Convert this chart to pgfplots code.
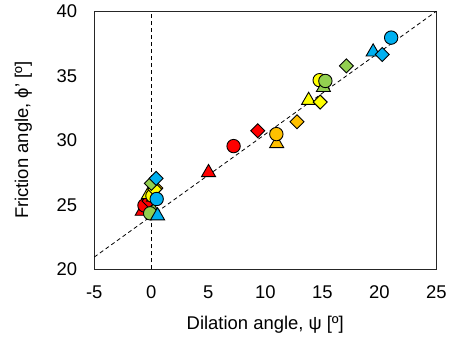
\documentclass[border=0pt]{standalone}
\usepackage{pgfplots}
\pgfplotsset{compat=1.18}
\usepackage{fontspec}
\setmainfont{Liberation Sans}
\definecolor{cred}{HTML}{FF0000}
\definecolor{corange}{HTML}{FFC000}
\definecolor{cyellow}{HTML}{FFFF00}
\definecolor{cgreen}{HTML}{92D050}
\definecolor{cblue}{HTML}{00B0F0}
\begin{document}
\begin{tikzpicture}
\begin{axis}[
  scale only axis,
  width=342bp, height=258bp,
  xmin=-5, xmax=25, ymin=20, ymax=40,
  xtick={-5,0,...,25}, ytick={20,25,...,40},
  major tick length=0pt,
  axis line style={line width=1.3pt, black!85},
  /pgf/number format/assume math mode=true,
  tick label style={font=\fontsize{18.5}{21}\selectfont, inner sep=0pt},
  xticklabel style={anchor=center, yshift=-22.7bp},
  yticklabel style={anchor=east, xshift=-17bp},
  xlabel={Dilation angle, ψ [º]},
  ylabel={Friction angle, ϕ' [º]},
  every axis x label/.style={at={(rel axis cs:0.5,0)}, anchor=center, yshift=-55bp, font=\fontsize{18.5}{21}\selectfont, inner sep=0pt},
  every axis y label/.style={at={(rel axis cs:0,0.5)}, anchor=center, rotate=90, yshift=71bp, font=\fontsize{18.5}{21}\selectfont, inner sep=0pt},
  clip=false,
  tri/.style={only marks, mark=triangle*, mark size=8.1bp, mark options={draw=black, line width=0.9pt}},
  cir/.style={only marks, mark=*, mark size=6.7bp, mark options={draw=black, line width=0.9pt}},
  dia/.style={only marks, mark=square*, mark size=4.95bp, mark options={draw=black, line width=0.9pt, rotate=45}},
]
\coordinate (O) at (rel axis cs:0,0);
\addplot[black, line width=0.8pt, dash pattern=on 4pt off 3pt] coordinates {(-5,20.95) (25,40)};
\addplot[black, line width=0.8pt, dash pattern=on 4pt off 3pt] coordinates {(0,20) (0,40)};
% red
\addplot[tri, fill=cred] coordinates {(-0.8,24.5) (5.02,27.5)};
\addplot[cir, fill=cred] coordinates {(-0.6,24.95) (7.22,29.55)};
\addplot[dia, fill=cred] coordinates {(-0.2,25.3) (9.33,30.74)};
% orange
\addplot[tri, fill=corange] coordinates {(0.2,25.6) (11.0,29.75)};
\addplot[cir, fill=corange] coordinates {(0.1,25.9) (10.97,30.48)};
\addplot[dia, fill=corange] coordinates {(0.4,26.3) (12.78,31.43)};
% yellow
\addplot[tri, fill=cyellow] coordinates {(-0.25,25.8) (13.8,33.1)};
\addplot[cir, fill=cyellow] coordinates {(0.1,25.7) (14.77,34.66)};
\addplot[dia, fill=cyellow] coordinates {(0.3,26.2) (14.82,32.96)};
% green
\addplot[tri, fill=cgreen] coordinates {(0.2,24.5) (15.1,34.1)};
\addplot[cir, fill=cgreen] coordinates {(-0.1,24.34) (15.27,34.6)};
\addplot[dia, fill=cgreen] coordinates {(0.0,26.66) (17.12,35.77)};
% blue
\addplot[tri, fill=cblue] coordinates {(0.55,24.15) (19.46,36.85)};
\addplot[cir, fill=cblue] coordinates {(0.47,25.45) (21.04,37.96)};
\addplot[dia, fill=cblue] coordinates {(0.42,27.05) (20.25,36.65)};
\end{axis}
\pgfresetboundingbox
\path (O) ++(-94.3bp,-72.7bp) rectangle ++(451bp,342bp);
\end{tikzpicture}
\end{document}
